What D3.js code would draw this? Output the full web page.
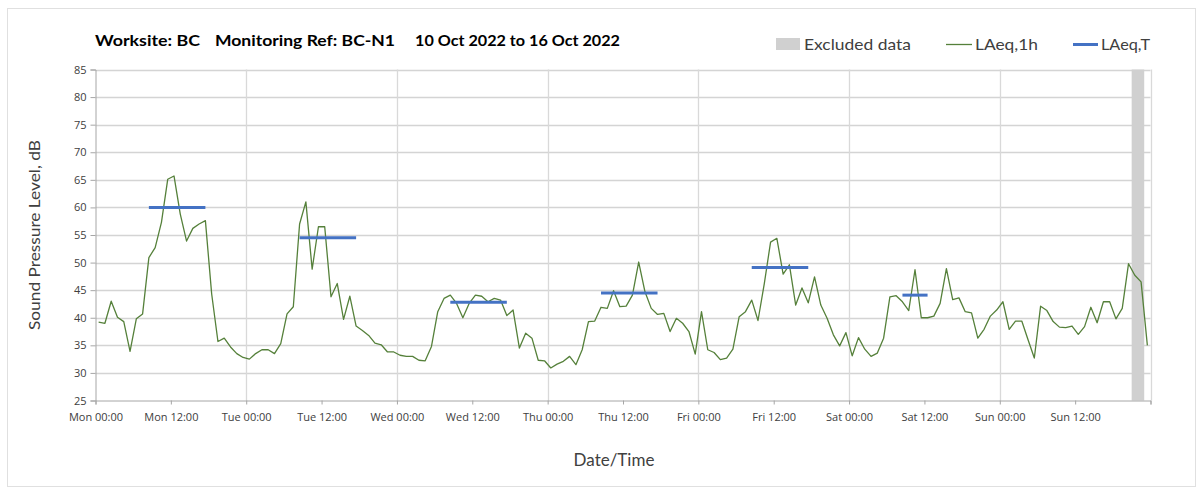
<!DOCTYPE html>
<html><head><meta charset="utf-8">
<script src="https://cdn.jsdelivr.net/npm/d3@7"></script>
<style>
html,body{margin:0;padding:0;background:#fff;}
svg{display:block;font-family:"Lato","Open Sans",sans-serif;}
</style></head>
<body><svg id="c" width="1203" height="488"></svg>
<script>
// ---- data ----
const dayNames = ["Mon","Tue","Wed","Thu","Fri","Sat","Sun"];
const tickTimes = ["00:00","12:00"];
const yTicks = [25,30,35,40,45,50,55,60,65,70,75,80,85];
// LAeq,1h hourly values, index 0 = Mon 00:00
const laeq1h = [
 39.2,39.0,43.0,40.1,39.3,33.9,39.8,40.7,50.9,52.7,57.3,65.1,65.7,58.8,53.9,56.2,57.0,57.6,44.3,35.7,36.3,34.7,33.5,32.8,
 32.5,33.5,34.2,34.2,33.5,35.3,40.7,42.0,57.0,61.0,48.8,56.5,56.5,43.8,46.2,39.7,43.9,38.5,37.7,36.8,35.4,35.1,33.8,33.8,
 33.2,33.0,33.0,32.3,32.2,34.8,41.1,43.5,44.1,42.6,40.0,42.6,44.1,43.9,42.9,43.5,43.2,40.4,41.4,34.5,37.2,36.3,32.3,32.2,
 30.9,31.6,32.1,33.0,31.5,34.2,39.3,39.4,41.9,41.7,44.9,42.0,42.1,44.1,50.1,44.7,41.7,40.6,40.8,37.5,39.9,39.0,37.5,33.4,
 41.1,34.2,33.7,32.4,32.7,34.3,40.2,41.1,43.2,39.5,46.2,53.7,54.4,47.9,49.6,42.3,45.4,42.7,47.4,42.3,39.9,36.9,34.9,37.3,
 33.1,36.4,34.3,33.0,33.6,36.3,43.8,44.0,42.9,41.3,48.7,40.0,40.0,40.3,42.6,48.9,43.3,43.6,41.1,40.9,36.3,37.9,40.3,41.4,
 42.9,37.9,39.4,39.4,36.0,32.7,42.1,41.3,39.3,38.3,38.2,38.5,37.0,38.4,41.9,39.1,42.9,42.9,39.8,41.7,49.8,47.7,46.5,35.0
];
// LAeq,T periods (first hour index, last hour index, level)
const laeqTStart = [8, 32, 56, 80, 104, 128];
const laeqTEnd   = [17, 41, 65, 89, 113, 132];
const laeqTValue = [60.0, 54.5, 42.8, 44.5, 49.1, 44.1];
// Excluded data (hours from Mon 00:00)
const excludedStart = [165];
const excludedEnd = [167];

// ---- chart ----
const svg = d3.select("#c");
const L = 95.5, R = 1150.5, T = 69.5, B = 400.5;
const x = d3.scaleLinear().domain([0, 168]).range([L, R]);
const y = d3.scaleLinear().domain([25, 85]).range([B, T]);

// outer border
svg.append("rect").attr("x",7.5).attr("y",8.5).attr("width",1188).attr("height",478)
  .attr("fill","none").attr("stroke","#e0e0e0");

// horizontal gridlines
svg.append("g").selectAll("line").data(yTicks.filter(v=>v>25)).join("line")
  .attr("x1",L).attr("x2",R).attr("y1",d=>Math.round(y(d))+0.5).attr("y2",d=>Math.round(y(d))+0.5)
  .attr("stroke","#d4d4d4").attr("stroke-width",1.3);
// vertical gridlines (daily)
const dayTicks = d3.range(24, 169, 24);
svg.append("g").selectAll("line").data(dayTicks).join("line")
  .attr("x1",d=>Math.round(x(d))+0.5).attr("x2",d=>Math.round(x(d))+0.5).attr("y1",T).attr("y2",B)
  .attr("stroke","#d9d9d9").attr("stroke-width",1.3);

// excluded data
svg.append("g").selectAll("rect").data(excludedStart).join("rect")
  .attr("x",(d)=>x(d)).attr("width",(d,i)=>x(excludedEnd[i])-x(d))
  .attr("y",T).attr("height",B-T).attr("fill","#d0d0d0");

// axes
const xTickVals = d3.range(0, 169, 12);
const xAxis = d3.axisBottom(x).tickValues(xTickVals).tickSize(4)
  .tickFormat(d => d >= 168 ? "" : dayNames[Math.floor(d/24)] + " " + tickTimes[(d%24)/12]);
const gx = svg.append("g").attr("transform",`translate(0,${B})`).call(xAxis);
gx.select(".domain").attr("stroke","#a6a6a6");
gx.selectAll(".tick line").attr("stroke","#a6a6a6");
gx.selectAll(".tick text").attr("fill","#404040").attr("font-size",11).attr("dy","1.25em")
  .attr("font-family","'Open Sans',sans-serif");

const yAxis = d3.axisLeft(y).tickValues(yTicks).tickSize(5).tickFormat(d3.format("d"));
const gy = svg.append("g").attr("transform",`translate(${L},0)`).call(yAxis);
gy.select(".domain").attr("stroke","#a6a6a6");
gy.selectAll(".tick line").attr("stroke","#a6a6a6");
gy.selectAll(".tick text").attr("fill","#404040").attr("font-size",11).attr("x",-9)
  .attr("font-family","'Open Sans',sans-serif");

// LAeq,1h line
const line = d3.line().x((d,i)=>x(i+0.5)).y(d=>y(d));
svg.append("path").datum(laeq1h).attr("d",line).attr("fill","none")
  .attr("stroke","#55803a").attr("stroke-width",1.3).attr("stroke-linejoin","round");

// LAeq,T segments
svg.append("g").selectAll("line").data(laeqTValue).join("line")
  .attr("x1",(d,i)=>x(laeqTStart[i]+0.5)).attr("x2",(d,i)=>x(laeqTEnd[i]+0.5))
  .attr("y1",d=>y(d)).attr("y2",d=>y(d))
  .attr("stroke","#4472c4").attr("stroke-width",3);

// title
const title = svg.append("g").attr("font-weight","bold").attr("font-size",16).attr("fill","#000");
title.append("text").attr("x",95).attr("y",46).attr("textLength",105).attr("lengthAdjust","spacingAndGlyphs").text("Worksite: BC");
title.append("text").attr("x",215).attr("y",46).attr("textLength",180).attr("lengthAdjust","spacingAndGlyphs").text("Monitoring Ref: BC-N1");
title.append("text").attr("x",415).attr("y",46).attr("textLength",205).attr("lengthAdjust","spacingAndGlyphs").text("10 Oct 2022 to 16 Oct 2022");

// legend
const lg = svg.append("g").attr("font-size",16).attr("fill","#404040");
lg.append("rect").attr("x",776).attr("y",38).attr("width",24).attr("height",12).attr("fill","#d0d0d0");
lg.append("text").attr("x",804).attr("y",50).attr("textLength",107).attr("lengthAdjust","spacingAndGlyphs").text("Excluded data");
lg.append("line").attr("x1",946).attr("x2",972).attr("y1",44.5).attr("y2",44.5).attr("stroke","#55803a").attr("stroke-width",1.3);
lg.append("text").attr("x",975).attr("y",50).attr("textLength",63).attr("lengthAdjust","spacingAndGlyphs").text("LAeq,1h");
lg.append("line").attr("x1",1073).attr("x2",1098).attr("y1",44.5).attr("y2",44.5).attr("stroke","#4472c4").attr("stroke-width",3);
lg.append("text").attr("x",1101).attr("y",50).attr("textLength",49).attr("lengthAdjust","spacingAndGlyphs").text("LAeq,T");

// axis titles
svg.append("text").attr("transform","translate(40,235) rotate(-90)").attr("text-anchor","middle")
  .attr("font-size",16).attr("fill","#404040").attr("textLength",190).attr("lengthAdjust","spacingAndGlyphs")
  .text("Sound Pressure Level, dB");
svg.append("text").attr("x",614).attr("y",466).attr("text-anchor","middle")
  .attr("font-size",17).attr("fill","#404040").text("Date/Time");
</script></body></html>
